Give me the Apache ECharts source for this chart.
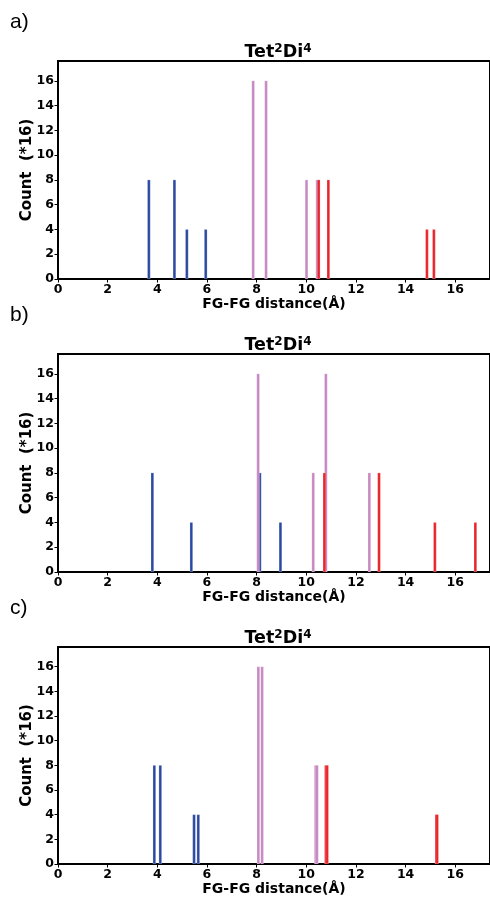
<!DOCTYPE html>
<html>
<head>
<meta charset="utf-8">
<script src="https://cdn.jsdelivr.net/npm/echarts@6/dist/echarts.min.js"></script>
<style>
html,body{margin:0;padding:0;background:#fff;}
#chart{width:490px;height:897px;}
</style>
</head>
<body>
<div id="chart"></div>
<script>
// ---- data ----
const panelLabels = ['a)', 'b)', 'c)'];
const xTickValues = [0, 2, 4, 6, 8, 10, 12, 14, 16];
const yTickValues = [0, 2, 4, 6, 8, 10, 12, 14, 16];

const aBlueX = [3.66, 4.69, 5.19, 5.95];
const aBlueY = [8, 8, 4, 4];
const aPinkX = [7.86, 8.38, 10.01, 10.44];
const aPinkY = [16, 16, 8, 8];
const aRedX = [10.50, 10.89, 14.86, 15.14];
const aRedY = [8, 8, 4, 4];

const bBlueX = [3.80, 5.37, 8.13, 8.96];
const bBlueY = [8, 4, 8, 4];
const bPinkX = [8.06, 10.28, 10.79, 12.54];
const bPinkY = [16, 8, 16, 8];
const bRedX = [10.73, 12.93, 15.18, 16.81];
const bRedY = [8, 8, 4, 4];

const cBlueX = [3.88, 4.12, 5.48, 5.65];
const cBlueY = [8, 8, 4, 4];
const cPinkX = [8.07, 8.22, 10.38, 10.43];
const cPinkY = [16, 16, 8, 8];
const cRedX = [10.79, 10.84, 15.24, 15.27];
const cRedY = [8, 8, 4, 4];

// ---- layout / style ----
const colors = { blue: '#2b49a0', pink: '#c789c2', red: '#e8252b' };
const gridTops = [61, 354, 647];
const gridH = 218;
const gridLeft = 58;
const gridW = 434;
const font = 'DejaVu Sans';

function zip(xs, ys) { return xs.map((x, i) => [x, ys[i]]); }

const panels = [
  { blue: zip(aBlueX, aBlueY), pink: zip(aPinkX, aPinkY), red: zip(aRedX, aRedY) },
  { blue: zip(bBlueX, bBlueY), pink: zip(bPinkX, bPinkY), red: zip(bRedX, bRedY) },
  { blue: zip(cBlueX, cBlueY), pink: zip(cPinkX, cPinkY), red: zip(cRedX, cRedY) }
];

function renderBar(params, api) {
  const x = api.value(0), y = api.value(1);
  const hw = 0.055;
  const p0 = api.coord([x - hw, 0]);
  const p1 = api.coord([x + hw, y]);
  return {
    type: 'rect',
    shape: { x: p0[0], y: p1[1], width: p1[0] - p0[0], height: p0[1] - p1[1] },
    style: { fill: api.visual('color'), stroke: 'rgba(255,255,255,0.35)', lineWidth: 0.6 }
  };
}

const grid = [], xAxis = [], yAxis = [], series = [], titles = [], graphics = [];
gridTops.forEach((top, i) => {
  grid.push({ left: gridLeft, top: top, width: gridW, height: gridH, show: true,
              borderColor: '#000', borderWidth: 2, backgroundColor: 'transparent' });
  xAxis.push({
    type: 'value', gridIndex: i, min: 0, max: 17.4, interval: 2,
    name: 'FG-FG distance(Å)', nameLocation: 'middle', nameGap: 18,
    nameTextStyle: { fontFamily: font, fontWeight: 'bold', fontSize: 14, color: '#000' },
    axisLine: { show: true, lineStyle: { color: '#000', width: 2 } },
    axisTick: { show: true, length: 3.5, lineStyle: { color: '#000', width: 1 } },
    axisLabel: { fontFamily: font, fontWeight: 'bold', fontSize: 12.5, color: '#000', margin: 4,
                 showMaxLabel: false,
                 formatter: v => xTickValues.indexOf(v) >= 0 ? String(v) : '' },
    splitLine: { show: false }
  });
  yAxis.push({
    type: 'value', gridIndex: i, min: 0, max: 17.6, interval: 2,
    name: 'Count  (*16)', nameLocation: 'middle', nameGap: 23, nameMoveOverlap: false,
    nameTextStyle: { fontFamily: font, fontWeight: 'bold', fontSize: 15, color: '#000' },
    axisLine: { show: true, lineStyle: { color: '#000', width: 2 } },
    axisTick: { show: true, length: 3.5, lineStyle: { color: '#000', width: 1 } },
    axisLabel: { fontFamily: font, fontWeight: 'bold', fontSize: 12.5, color: '#000', margin: 4,
                 showMaxLabel: false,
                 formatter: v => yTickValues.indexOf(v) >= 0 ? String(v) : '' },
    splitLine: { show: false }
  });
  ['blue', 'pink', 'red'].forEach(k => {
    series.push({
      type: 'custom', xAxisIndex: i, yAxisIndex: i, clip: true,
      itemStyle: { color: colors[k] },
      data: panels[i][k], renderItem: renderBar, silent: true
    });
  });
  titles.push({
    text: '{b|Tet}{s|2}{b|Di}{s|4}',
    left: gridLeft + gridW / 2 - 2, top: top - 23, textAlign: 'center',
    textStyle: {
      rich: {
        b: { fontFamily: font, fontWeight: 'bold', fontSize: 17.5, color: '#000' },
        s: { fontFamily: font, fontWeight: 'bold', fontSize: 12, color: '#000', padding: [0, 0, 7, 0] }
      }
    }
  });
  graphics.push({
    type: 'text', left: 10, top: top - 49,
    style: { text: panelLabels[i], fontFamily: 'Liberation Sans', fontSize: 21, fill: '#000' }
  });
});

const chart = echarts.init(document.getElementById('chart'), null, { renderer: 'canvas' });
chart.setOption({
  animation: false,
  backgroundColor: '#fff',
  title: titles,
  grid: grid,
  xAxis: xAxis,
  yAxis: yAxis,
  series: series,
  graphic: graphics
});
</script>
</body>
</html>
